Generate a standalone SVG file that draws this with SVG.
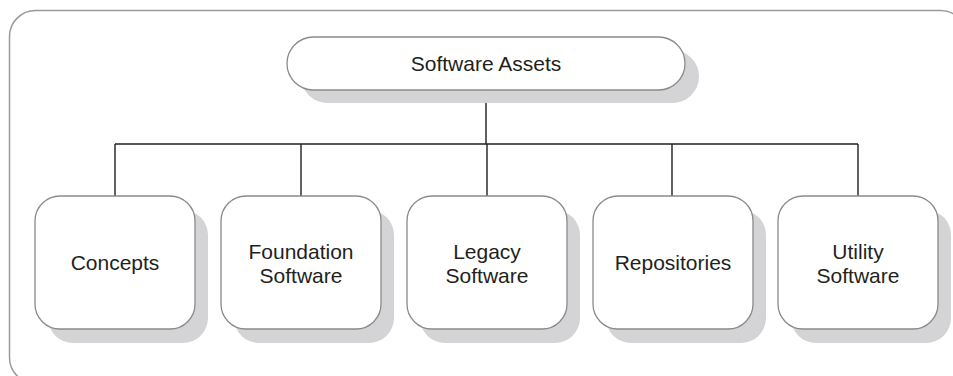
<svg xmlns="http://www.w3.org/2000/svg" width="953" height="376" viewBox="0 0 953 376">
<style>
.frame{fill:#fff;stroke:#9a9a9a;stroke-width:1.5}
.shadow{fill:#d4d4d6;stroke:none}
.box{fill:#fff;stroke:#8a8a8a;stroke-width:1.3}
.lbl{font-family:"Liberation Sans",Arial,sans-serif;font-size:21px;fill:#231f20;text-anchor:middle}
.conn{fill:none;stroke:#231f20;stroke-width:1.4}
</style>
<rect class="frame" x="9.5" y="10.5" width="957" height="373" rx="26"/>
<g id="connectors">
<path class="conn" d="M486 90 V144 M115 144 H858 M115 144 V196 M301 144 V196 M487 144 V196 M672 144 V196 M858 144 V196"/>
</g>
<g id="software-assets">
<rect class="shadow" x="301" y="50" width="398" height="53" rx="26.5"/>
<rect class="box" x="287" y="37" width="398" height="53" rx="26.5"/>
<text class="lbl" x="486" y="70.5">Software Assets</text>
</g>
<g id="concepts">
<rect class="shadow" x="48" y="210" width="160" height="133" rx="25"/>
<rect class="box" x="35" y="196" width="160" height="133" rx="25"/>
<text class="lbl" x="115" y="270">Concepts</text>
</g>
<g id="foundation-software">
<rect class="shadow" x="234" y="210" width="160" height="133" rx="25"/>
<rect class="box" x="221" y="196" width="160" height="133" rx="25"/>
<text class="lbl" x="301" y="258.5">Foundation</text>
<text class="lbl" x="301" y="282.5">Software</text>
</g>
<g id="legacy-software">
<rect class="shadow" x="420" y="210" width="160" height="133" rx="25"/>
<rect class="box" x="407" y="196" width="160" height="133" rx="25"/>
<text class="lbl" x="487" y="258.5">Legacy</text>
<text class="lbl" x="487" y="282.5">Software</text>
</g>
<g id="repositories">
<rect class="shadow" x="606" y="210" width="160" height="133" rx="25"/>
<rect class="box" x="593" y="196" width="160" height="133" rx="25"/>
<text class="lbl" x="673" y="270">Repositories</text>
</g>
<g id="utility-software">
<rect class="shadow" x="791" y="210" width="160" height="133" rx="25"/>
<rect class="box" x="778" y="196" width="160" height="133" rx="25"/>
<text class="lbl" x="858" y="258.5">Utility</text>
<text class="lbl" x="858" y="282.5">Software</text>
</g>
</svg>
